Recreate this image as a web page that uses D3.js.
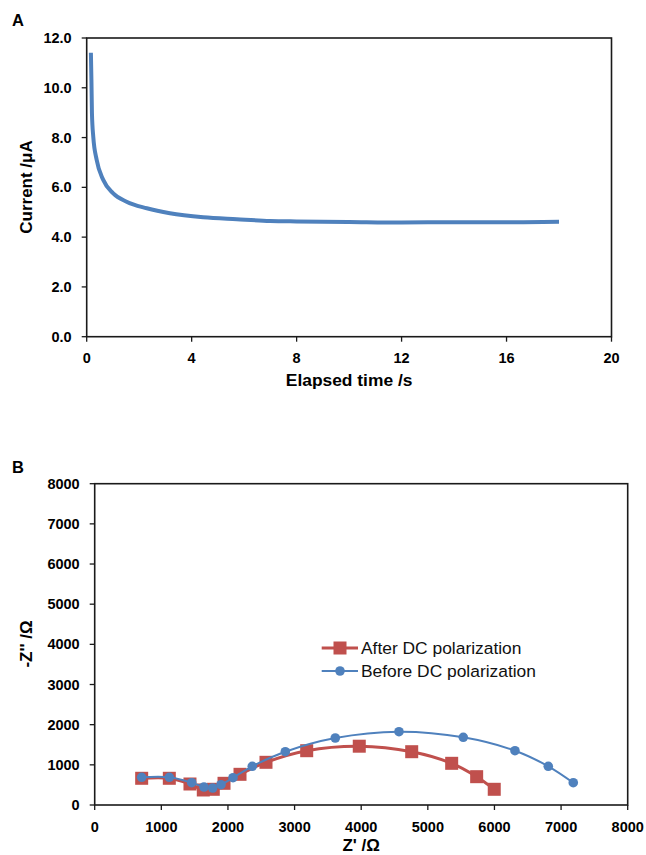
<!DOCTYPE html>
<html><head><meta charset="utf-8">
<script src="https://cdn.jsdelivr.net/npm/d3@7"></script>
<style>
html,body{margin:0;padding:0;background:#fff;}
svg{display:block;font-family:"Liberation Sans",Arial,sans-serif;}
</style></head>
<body>
<svg id="chart" width="646" height="855"></svg>
<script>
// ---------- Panel A data ----------
const timeS = [0.16, 0.18, 0.20, 0.25, 0.38, 0.63, 1.01, 1.52, 2.29, 3.17, 4.44, 5.72, 6.99, 8, 10, 12, 14, 16, 18.0];
const currentUA = [11.41, 10.31, 8.98, 8.04, 7.10, 6.30, 5.76, 5.42, 5.16, 4.96, 4.80, 4.72, 4.65, 4.63, 4.61, 4.59, 4.60, 4.60, 4.62];
const xTicksA = [0, 4, 8, 12, 16, 20];
const yTicksA = [0, 2, 4, 6, 8, 10, 12];

// ---------- Panel B data ----------
const afterZr = [705, 1120, 1430, 1630, 1780, 1941, 2181, 2571, 3182, 3971, 4758, 5358, 5733, 5997];
const afterZi = [665, 665, 523, 374, 391, 540, 764, 1063, 1352, 1464, 1327, 1038, 705, 391];
const beforeZr = [705, 1120, 1456, 1640, 1771, 1896, 2076, 2365, 2861, 3611, 4567, 5532, 6308, 6808, 7183];
const beforeZi = [690, 690, 555, 448, 423, 505, 680, 964, 1327, 1668, 1825, 1686, 1352, 964, 555];
const ticksB = [0, 1000, 2000, 3000, 4000, 5000, 6000, 7000, 8000];
const seriesNames = ["After DC polarization", "Before DC polarization"];

const BLUE = "#4F81BD", RED = "#C0504D", AXIS = "#1a1a1a";
const svg = d3.select("#chart");

function frame(g, x, y, xTicks, yTicks, xFmt, yFmt) {
  const [x0, x1] = x.range(), [y0, y1] = y.range();
  yTicks.forEach(v => {
    g.append("line").attr("x1", x0 - 5).attr("x2", x0).attr("y1", y(v)).attr("y2", y(v))
      .attr("stroke", AXIS).attr("stroke-width", 1.3);
    g.append("text").attr("x", x0 - 15).attr("y", y(v)).attr("dy", "0.35em")
      .attr("text-anchor", "end").attr("font-size", 14.5).attr("font-weight", "bold").text(yFmt(v));
  });
  xTicks.forEach(v => {
    g.append("line").attr("x1", x(v)).attr("x2", x(v)).attr("y1", y0).attr("y2", y0 + 5)
      .attr("stroke", AXIS).attr("stroke-width", 1.3);
    g.append("text").attr("x", x(v)).attr("y", y0 + 26.5)
      .attr("text-anchor", "middle").attr("font-size", 14.5).attr("font-weight", "bold").text(xFmt(v));
  });
  g.append("rect").attr("x", x0).attr("y", y1).attr("width", x1 - x0).attr("height", y0 - y1)
    .attr("fill", "none").attr("stroke", AXIS).attr("stroke-width", 1.6);
}

// ---------- Panel A ----------
const xA = d3.scaleLinear().domain([0, 20]).range([86.7, 611.5]);
const yA = d3.scaleLinear().domain([0, 12]).range([336.7, 38]);
const gA = svg.append("g");
gA.append("path")
  .datum(timeS.map((t, i) => [t, currentUA[i]]))
  .attr("fill", "none").attr("stroke", BLUE).attr("stroke-width", 4).attr("stroke-linejoin", "round")
  .attr("d", d3.line().x(d => xA(d[0])).y(d => yA(d[1])).curve(d3.curveMonotoneX));
frame(gA, xA, yA, xTicksA, yTicksA, d => d3.format("d")(d), d => d3.format(".1f")(d));
gA.append("text").attr("x", 12).attr("y", 25.5).attr("font-size", 16.5).attr("font-weight", "bold").text("A");
gA.append("text").attr("transform", "translate(32,187) rotate(-90)").attr("text-anchor", "middle")
  .attr("font-size", 17).attr("font-weight", "bold").text("Current /μA");
gA.append("text").attr("x", 349.1).attr("y", 386).attr("text-anchor", "middle")
  .attr("font-size", 17.4).attr("font-weight", "bold").text("Elapsed time /s");

// ---------- Panel B ----------
const xB = d3.scaleLinear().domain([0, 8000]).range([94.7, 627.7]);
const yB = d3.scaleLinear().domain([0, 8000]).range([805, 483.7]);
const gB = svg.append("g");
frame(gB, xB, yB, ticksB, ticksB, d => d, d => d);
const lineB = d3.line().x(d => xB(d[0])).y(d => yB(d[1])).curve(d3.curveCatmullRom.alpha(0.5));
const afterPts = afterZr.map((v, i) => [v, afterZi[i]]);
const beforePts = beforeZr.map((v, i) => [v, beforeZi[i]]);
gB.append("path").datum(afterPts).attr("fill", "none").attr("stroke", RED).attr("stroke-width", 3).attr("d", lineB);
gB.selectAll("rect.sq").data(afterPts).enter().append("rect").attr("class", "sq")
  .attr("x", d => xB(d[0]) - 6.5).attr("y", d => yB(d[1]) - 6.5).attr("width", 13).attr("height", 13)
  .attr("fill", RED);
gB.append("path").datum(beforePts).attr("fill", "none").attr("stroke", BLUE).attr("stroke-width", 2).attr("d", lineB);
gB.selectAll("circle.pt").data(beforePts).enter().append("circle").attr("class", "pt")
  .attr("cx", d => xB(d[0])).attr("cy", d => yB(d[1])).attr("r", 4.8).attr("fill", BLUE);

// legend
const leg = gB.append("g");
[[RED, 3, "sq"], [BLUE, 2, "ci"]].forEach((s, i) => {
  const ly = 648 + i * 23;
  leg.append("line").attr("x1", 321.7).attr("x2", 358).attr("y1", ly).attr("y2", ly)
    .attr("stroke", s[0]).attr("stroke-width", s[1]);
  if (s[2] === "sq") leg.append("rect").attr("x", 333.5).attr("y", ly - 6.5).attr("width", 13).attr("height", 13).attr("fill", s[0]);
  else leg.append("circle").attr("cx", 340).attr("cy", ly).attr("r", 4.8).attr("fill", s[0]);
  leg.append("text").attr("x", 361).attr("y", ly).attr("dy", "0.36em").attr("font-size", 17.4).attr("fill", "#111").text(seriesNames[i]);
});

gB.append("text").attr("x", 12).attr("y", 472.5).attr("font-size", 16.5).attr("font-weight", "bold").text("B");
gB.append("text").attr("transform", "translate(32,644) rotate(-90)").attr("text-anchor", "middle")
  .attr("font-size", 17).attr("font-weight", "bold").text("-Z'' /Ω");
gB.append("text").attr("x", 361.2).attr("y", 851).attr("text-anchor", "middle")
  .attr("font-size", 17).attr("font-weight", "bold").text("Z' /Ω");
</script>
</body></html>
